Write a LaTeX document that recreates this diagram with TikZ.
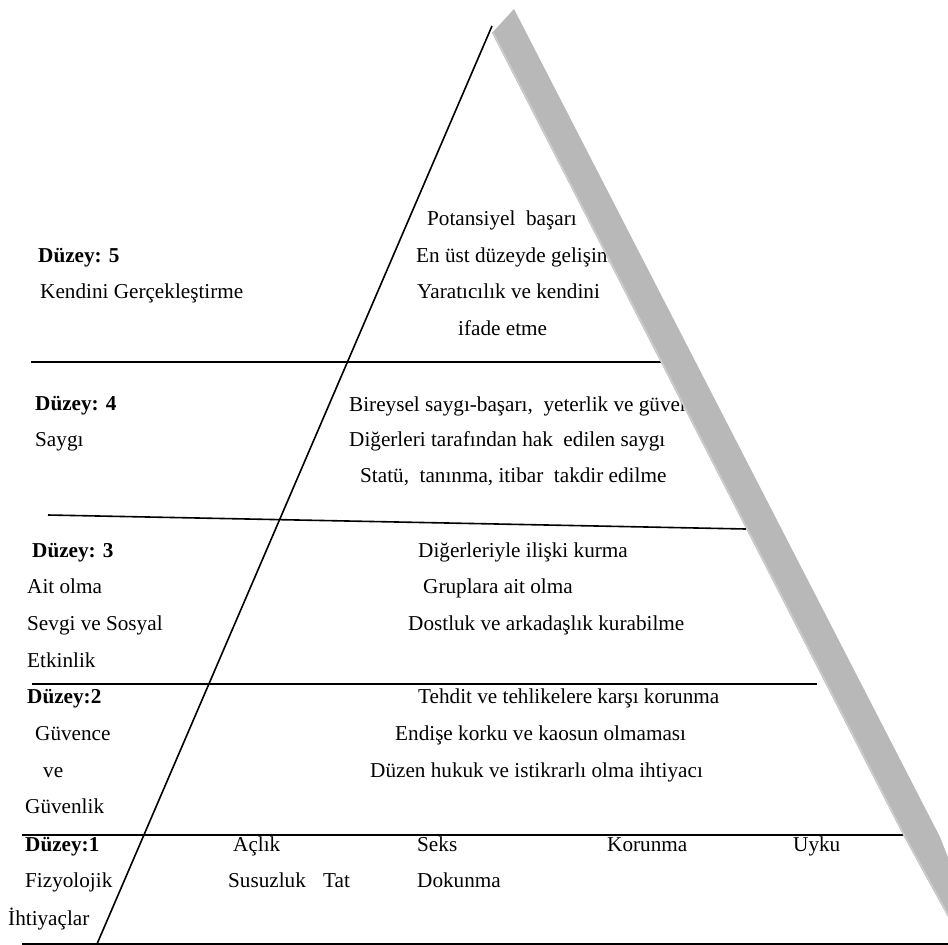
\documentclass[tikz,border=0pt]{standalone}
\usepackage{fontspec}
\setmainfont{Liberation Serif}
\begin{document}
\begin{tikzpicture}[x=1pt,y=-1pt,
  txt/.style={anchor=base west, inner sep=0pt, font=\fontsize{21.2}{25}\selectfont},
  lvl/.style={anchor=base west, inner sep=0pt, font=\fontsize{21.2}{25}\selectfont\bfseries},
  rule/.style={line width=1.6pt, black},
  band/.style={fill=black!28, draw=none},
  bandedge/.style={line width=1.6pt, draw=black!20}]
\useasboundingbox (0,0) rectangle (948,945);
% pyramid left side
\coordinate (apex) at (492,26);
\coordinate (foot) at (97,944);
\draw[rule] (apex) -- (foot);
% horizontal dividers
\coordinate (l1a) at (31,362);  \coordinate (l1b) at (661,362);
\coordinate (l2a) at (48,515);  \coordinate (l2b) at (746,529);
\coordinate (l3a) at (32,684);  \coordinate (l3b) at (817,684);
\coordinate (l4a) at (22,835);  \coordinate (l4b) at (905,835);
\coordinate (l5a) at (22,944);  \coordinate (l5b) at (948,944);
\draw[rule] (l1a) -- (l1b);
\draw[rule] (l2a) -- (l2b);
\draw[rule] (l3a) -- (l3b);
\draw[rule] (l4a) -- (l4b);
\draw[rule, line width=1.4pt] (l5a) -- (l5b);
% level 5
\node[lvl] (d5) at (38,262) {Düzey: 5};
\node[txt] (d5a) at (40,298) {Kendini Gerçekleştirme};
\node[txt] (r5a) at (427,225) {Potansiyel\ \ başarı};
\node[txt] (r5b) at (416,262) {En üst düzeyde gelişim};
\node[txt] (r5c) at (417,298) {Yaratıcılık ve kendini};
\node[txt] (r5d) at (458,335) {ifade etme};
% level 4
\node[lvl] (d4) at (35,410) {Düzey: 4};
\node[txt] (d4a) at (35,446) {Saygı};
\node[txt] (r4a) at (349,411) {Bireysel saygı-başarı,\ \ yeterlik ve güven};
\node[txt] (r4b) at (349,446) {Diğerleri tarafından hak\ \ edilen saygı};
\node[txt] (r4c) at (360,482) {Statü,\ \ tanınma, itibar\ \ takdir edilme};
% level 3
\node[lvl] (d3) at (32,557) {Düzey: 3};
\node[txt] (d3a) at (27,593) {Ait olma};
\node[txt] (d3b) at (27,630) {Sevgi ve Sosyal};
\node[txt] (d3c) at (27,667) {Etkinlik};
\node[txt] (r3a) at (418,557) {Diğerleriyle ilişki kurma};
\node[txt] (r3b) at (423,593) {Gruplara ait olma};
\node[txt] (r3c) at (408,630) {Dostluk ve arkadaşlık kurabilme};
% level 2
\node[lvl] (d2) at (27,703) {Düzey:2};
\node[txt] (d2a) at (35,740) {Güvence};
\node[txt] (d2b) at (43,777) {ve};
\node[txt] (d2c) at (25,813) {Güvenlik};
\node[txt] (r2a) at (418,703) {Tehdit ve tehlikelere karşı korunma};
\node[txt] (r2b) at (395,740) {Endişe korku ve kaosun olmaması};
\node[txt] (r2c) at (370,777) {Düzen hukuk ve istikrarlı olma ihtiyacı};
% level 1
\node[lvl] (d1) at (25,851) {Düzey:1};
\node[txt] (d1a) at (25,887) {Fizyolojik};
\node[txt] (d1b) at (8,925) {İhtiyaçlar};
\node[txt] (r1a) at (233,851) {Açlık};
\node[txt] (r1b) at (417,851) {Seks};
\node[txt] (r1c) at (607,851) {Korunma};
\node[txt] (r1d) at (793,851) {Uyku};
\node[txt] (r1e) at (228,887) {Susuzluk};
\node[txt] (r1f) at (323,887) {Tat};
\node[txt] (r1g) at (417,887) {Dokunma};
% grey band (right side)
\begin{scope}
\clip (0,0) rectangle (948,945);
\coordinate (bA) at (492,33);
\coordinate (bB) at (514,9);
\coordinate (bC) at (940,837);
\coordinate (bD) at (1000,990);
\coordinate (bE) at (988,990);
\coordinate (bF) at (903,835);
\fill[band] (bA) -- (bB) -- (bC) -- (bD) -- (bE) -- (bF) -- cycle;
\draw[bandedge] ([xshift=1.2pt]bA) -- ([xshift=1.2pt]bF) -- ([xshift=1.2pt]bE);
\end{scope}
\end{tikzpicture}
\end{document}
